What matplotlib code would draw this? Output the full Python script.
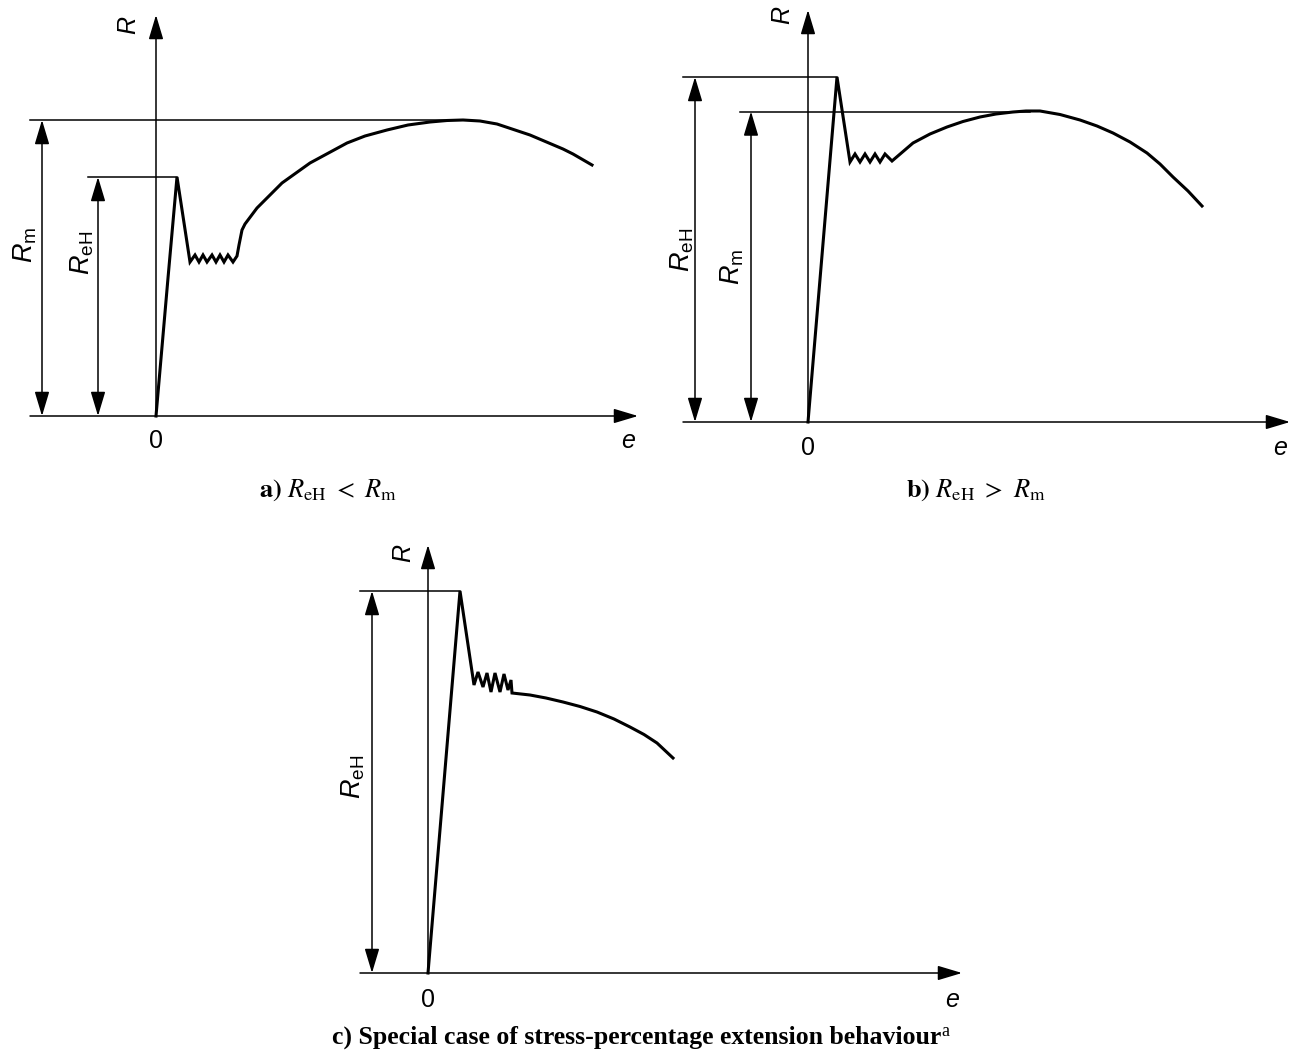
import matplotlib
matplotlib.use('Agg')
import matplotlib.pyplot as plt
from matplotlib.patches import FancyArrowPatch

plt.rcParams['mathtext.fontset'] = 'custom'
plt.rcParams['mathtext.rm'] = 'Liberation Sans'
plt.rcParams['mathtext.it'] = 'Liberation Sans:italic'
plt.rcParams['mathtext.bf'] = 'Liberation Sans:bold'

W, H = 1294, 1057

# a) R_eH < R_m  (e, R, origin at the axes crossing)
a_e = [0, 12, 21, 34, 39, 43, 47, 51, 56, 60, 64, 68, 72, 77, 81, 83, 86, 89,
       101, 126, 154, 191, 209, 231, 252, 274, 291, 307, 324, 341, 374, 407,
       417, 436]
a_R = [0, 138, 239, 154, 161, 154, 161, 154, 161, 154, 161, 154, 161, 154, 160,
       171, 186, 192, 208, 233, 253, 273, 280, 286, 291, 294, 295.5, 296, 295,
       292, 281, 267, 262, 251]
a_ReH, a_Rm = 239, 296

# b) R_eH > R_m
b_e = [0, 29, 42, 47, 52, 57, 62, 67, 72, 77, 84, 105, 122, 139, 155, 172,
       188, 205, 218, 232, 252, 272, 289, 305, 322, 339, 352, 365, 380, 394]
b_R = [0, 345, 260, 268, 260, 268, 260, 268, 260, 268, 261, 279, 288, 295,
       300.5, 305, 308, 310, 311, 311, 307.5, 302, 296, 289, 280, 269, 258,
       245, 231, 216]
b_ReH, b_Rm = 345, 310.5

# c) special case
c_e = [0, 32, 46, 50, 55, 59, 63, 67, 72, 76, 80, 83, 84, 102, 118, 135, 152,
       169, 186, 202, 216, 229, 245]
c_R = [0, 382, 288, 301, 286, 300, 281, 300, 281, 299, 283, 293, 280, 278,
       275, 271, 266.5, 261, 254, 246, 238.5, 230, 215]
c_ReH = 382

fig = plt.figure(figsize=(W / 100, H / 100), dpi=100)


def arrow(ax, p0, p1, style):
    ax.add_patch(FancyArrowPatch(p0, p1, arrowstyle=style, mutation_scale=10,
                                 lw=1.1, color='black', shrinkA=0, shrinkB=0))


def panel(ox, oy, e, R, e_left, e_end, R_top, dims, lab_R, lab_dy):
    ax = fig.add_axes([0, 0, 1, 1])
    ax.set_xlim(-ox, W - ox)
    ax.set_ylim(oy - H, oy)
    ax.axis('off')
    ax.patch.set_alpha(0)
    head = '-|>,head_length=1.5,head_width=0.45'
    both = '<|-|>,head_length=1.5,head_width=0.45'
    arrow(ax, (e_left, 0), (e_end, 0), head)
    arrow(ax, (0, 0), (0, R_top), head)
    for val, e_dim, e_from, e_to, txt, e_txt, R_txt in dims:
        ax.plot([e_from, e_to], [val, val], color='black', lw=1.1)
        arrow(ax, (e_dim, 0), (e_dim, val), both)
        ax.text(e_txt, R_txt, txt, rotation=90, ha='center', va='center',
                fontsize=19.5, math_fontfamily='custom')
    ax.plot(e, R, color='black', lw=2.2, solid_joinstyle='miter')
    ax.text(lab_R[0], lab_R[1], '$R$', rotation=90, ha='center', va='center',
            fontsize=18, math_fontfamily='custom')
    ax.text(0, -lab_dy, '0', ha='center', va='center', fontsize=18,
            family='Liberation Sans')
    ax.text(e_end - 10, -lab_dy, 'e', ha='center', va='center', fontsize=18,
            family='Liberation Sans', style='italic')
    return ax


panel(156, 416, a_e, a_R, -126, 482, 401,
      [(a_Rm, -114, -126, 299, r'$R_{\mathrm{m}}$', -131, 171),
       (a_ReH, -58, -68, 21, r'$R_{\mathrm{eH}}$', -74, 163)],
      (-27, 391), 25)

panel(808, 422, b_e, b_R, -125, 482, 412,
      [(b_ReH, -113, -125, 29, r'$R_{\mathrm{eH}}$', -126, 172),
       (b_Rm, -57, -68, 222, r'$R_{\mathrm{m}}$', -76, 155)],
      (-25, 407), 26)

panel(428, 973, c_e, c_R, -68, 534, 428,
      [(c_ReH, -56, -68, 32, r'$R_{\mathrm{eH}}$', -75, 196)],
      (-24, 420), 27)

cap = dict(ha='center', va='center', fontsize=19, math_fontfamily='stix')
fig.text(328 / W, 1 - 490 / H, r'$\mathbf{a)}\ R_{\mathrm{eH}}\ <\ R_{\mathrm{m}}$', **cap)
fig.text(976 / W, 1 - 490 / H, r'$\mathbf{b)}\ R_{\mathrm{eH}}\ >\ R_{\mathrm{m}}$', **cap)
t = fig.text(637 / W, 1 - 1037 / H,
             'c) Special case of stress-percentage extension behaviour',
             ha='center', va='center', fontsize=18.5, family='Liberation Serif',
             weight='bold')
plt.annotate('a', xy=(1, 0.75), xycoords=t, va='center', ha='left',
             fontsize=13, family='Liberation Serif')

fig.savefig('out.png', dpi=100)
